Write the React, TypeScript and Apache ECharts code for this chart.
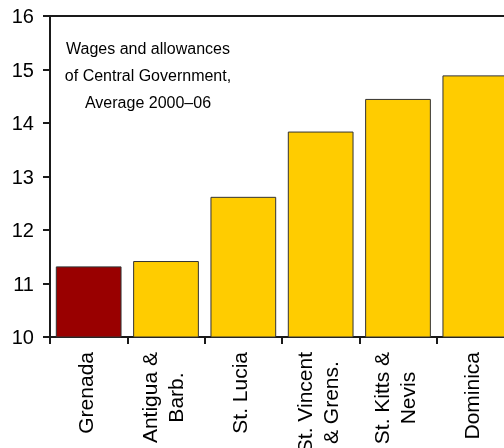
import React, { useEffect, useRef } from "react";
import * as echarts from "echarts";

const categories = [
  "Grenada",
  "Antigua &\nBarb.",
  "St. Lucia",
  "St. Vincent\n& Grens.",
  "St. Kitts &\nNevis",
  "Dominica",
];
const values = [11.32, 11.42, 12.62, 13.84, 14.45, 14.89];
const highlightIndex = 0;
const yTicks = { min: 10, max: 16, interval: 1 };
const titleLines = ["Wages and allowances", "of Central Government,", "Average 2000\u201306"];

const FONT = "'Liberation Sans', Arial, sans-serif";

export default function App() {
  const ref = useRef<HTMLDivElement>(null);
  useEffect(() => {
    if (!ref.current) return;
    const chart = echarts.init(ref.current, null, { renderer: "svg" });
    chart.setOption({
      animation: false,
      grid: {
        left: 50,
        top: 16,
        bottom: 111,
        right: 0,
        containLabel: false,
        outerBoundsMode: "none",
        show: true,
        borderColor: "#1a1a1a",
        borderWidth: 2,
        backgroundColor: "transparent",
      },
      xAxis: {
        type: "category",
        data: categories,
        axisLine: { lineStyle: { color: "#1a1a1a", width: 2 } },
        axisTick: { show: true, length: 7, lineStyle: { color: "#1a1a1a", width: 2 } },
        axisLabel: {
          interval: 0,
          rotate: 90,
          margin: 15,
          padding: [0, 0, 7, 0],
          color: "#000",
          fontSize: 21,
          fontFamily: FONT,
          lineHeight: 26,
          formatter: (v: string) =>
            v
              .split("\n")
              .map((s) => `{c|${s}}`)
              .join("\n"),
          rich: {
            c: {
              align: "center",
              fontSize: 21,
              lineHeight: 26,
              fontFamily: FONT,
              color: "#000",
            },
          },
        },
      },
      yAxis: {
        type: "value",
        min: yTicks.min,
        max: yTicks.max,
        interval: yTicks.interval,
        splitLine: { show: false },
        axisLine: { show: true, lineStyle: { color: "#1a1a1a", width: 2 } },
        axisTick: { show: true, length: 7, lineStyle: { color: "#1a1a1a", width: 2 } },
        axisLabel: {
          margin: 16,
          color: "#000",
          fontSize: 20,
          fontFamily: FONT,
        },
      },
      graphic: [
        {
          type: "text",
          x: 148,
          y: 35,
          style: {
            text: titleLines.join("\n"),
            fontSize: 16,
            fontFamily: FONT,
            lineHeight: 27,
            fill: "#000",
            align: "center",
            verticalAlign: "top",
          },
        },
      ],
      series: [
        {
          type: "bar",
          data: values.map((v, i) => ({
            value: v,
            itemStyle: {
              color: i === highlightIndex ? "#990000" : "#FFCC00",
            },
          })),
          barCategoryGap: "15%",
          itemStyle: { borderColor: "#333", borderWidth: 1 },
        },
      ],
    });
    return () => chart.dispose();
  }, []);
  return (
    <div style={{ position: "fixed", left: 0, top: 0, width: 504, height: 448, overflow: "hidden" }}>
      <div ref={ref} style={{ width: 514, height: 448 }} />
    </div>
  );
}
